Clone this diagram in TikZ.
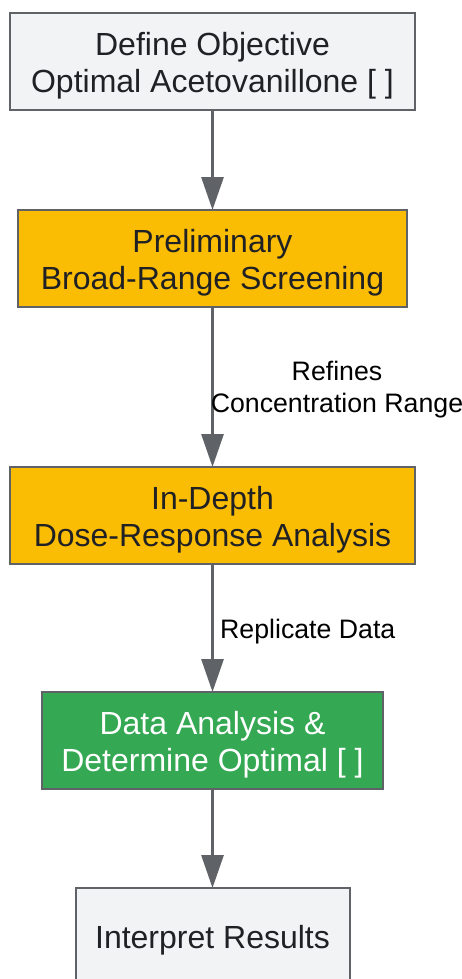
\documentclass[tikz,border=0pt]{standalone}
\usepackage{fontspec}
\setmainfont{Liberation Sans}
\usetikzlibrary{arrows.meta}
\definecolor{boxgray}{HTML}{F1F3F4}
\definecolor{edgegray}{HTML}{5F6368}
\definecolor{gyellow}{HTML}{FBBC04}
\definecolor{ggreen}{HTML}{34A853}
\definecolor{txt}{HTML}{202124}
\tikzset{
  box/.style={draw=edgegray, line width=2pt, inner sep=0pt, outer sep=0pt},
  boxtext/.style={align=center, text=txt, font=\fontsize{32}{37}\selectfont, inner sep=0pt},
  flow/.style={draw=edgegray, line width=3pt, -{Triangle[length=33pt,width=22pt]}, shorten >=0pt},
  elabel/.style={align=center, text=black, font=\fontsize{26.7}{32}\selectfont, inner sep=0pt}
}
\begin{document}
\begin{tikzpicture}[x=1pt,y=-1pt]
\useasboundingbox (0,0) rectangle (462,979);
% boxes
\path[box, fill=boxgray] (10,13) rectangle (415,110);
\path[box, fill=gyellow] (18,210) rectangle (407,307);
\path[box, fill=gyellow] (10,467) rectangle (415,564);
\path[box, fill=ggreen] (42,692) rectangle (383,789);
\path[box, fill=boxgray] (76,888) rectangle (350,990);
% anchors
\coordinate (b1b) at (212.5,110);
\coordinate (b2t) at (212.5,210);
\coordinate (b2b) at (212.5,307);
\coordinate (b3t) at (212.5,467);
\coordinate (b3b) at (212.5,564);
\coordinate (b4t) at (212.5,692);
\coordinate (b4b) at (212.5,789);
\coordinate (b5t) at (212.5,888);
% texts
\node[boxtext] (t1) at (212.5,65.5) {Define Objective\\Optimal Acetovanillone [ ]};
\node[boxtext] (t2) at (212.5,262.5) {Preliminary\\Broad-Range Screening};
\node[boxtext] (t3) at (212.5,519.5) {In-Depth\\Dose-Response Analysis};
\node[boxtext, text=white] (t4) at (212.5,744.5) {Data Analysis \&\\Determine Optimal [ ]};
\node[boxtext] (t5) at (212.5,940) {Interpret Results};
% connectors
\draw[flow] (b1b) -- (b2t);
\draw[flow] (b2b) -- (b3t);
\draw[flow] (b3b) -- (b4t);
\draw[flow] (b4b) -- (b5t);
% edge labels
\node[elabel] (l1) at (337,390) {Refines\\Concentration Range};
\node[elabel, anchor=west] (l2) at (220,632) {Replicate Data};
\end{tikzpicture}
\end{document}
